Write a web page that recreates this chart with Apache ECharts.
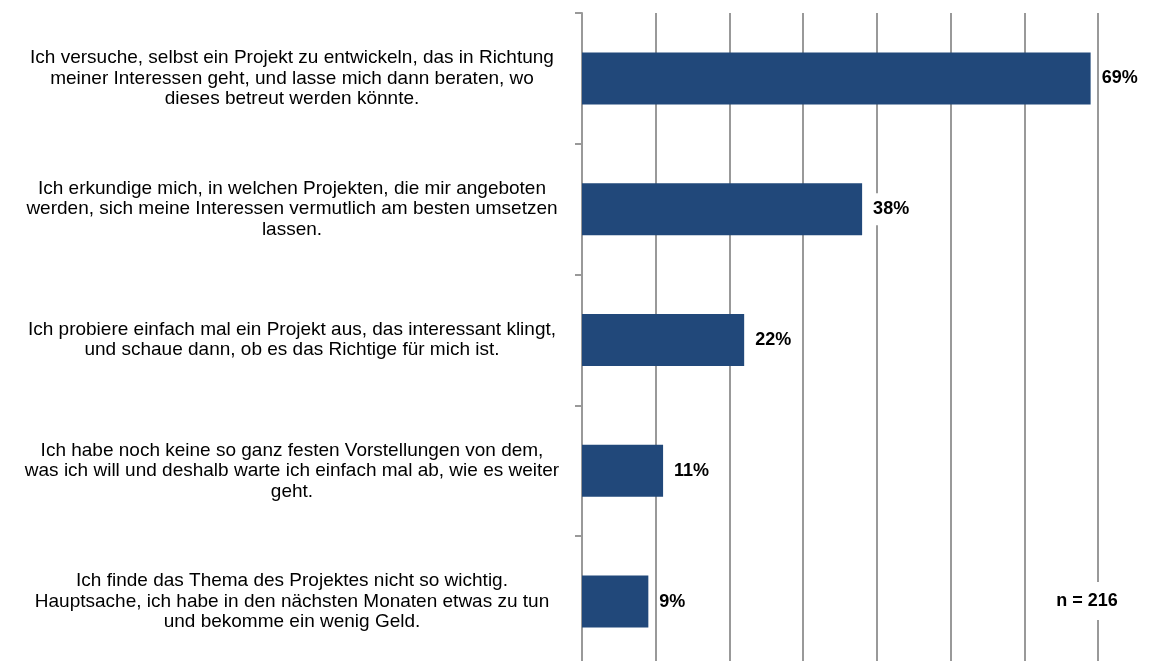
<!DOCTYPE html>
<html>
<head>
<meta charset="utf-8">
<script src="https://cdn.jsdelivr.net/npm/echarts@6/dist/echarts.min.js"></script>
<style>
  html, body { margin: 0; padding: 0; background: #fff; }
  #chart { width: 1163px; height: 661px; }
</style>
</head>
<body>
<div id="chart"></div>
<script>
// Antworten (Kategorien) und Anteile in Prozent
const categories = [
  'Ich versuche, selbst ein Projekt zu entwickeln, das in Richtung\nmeiner Interessen geht, und lasse mich dann beraten, wo\ndieses betreut werden könnte.',
  'Ich erkundige mich, in welchen Projekten, die mir angeboten\nwerden, sich meine Interessen vermutlich am besten umsetzen\nlassen.',
  'Ich probiere einfach mal ein Projekt aus, das interessant klingt,\nund schaue dann, ob es das Richtige für mich ist.',
  'Ich habe noch keine so ganz festen Vorstellungen von dem,\nwas ich will und deshalb warte ich einfach mal ab, wie es weiter\ngeht.',
  'Ich finde das Thema des Projektes nicht so wichtig.\nHauptsache, ich habe in den nächsten Monaten etwas zu tun\nund bekomme ein wenig Geld.'
]
const values = [69, 38, 22, 11, 9]
const sampleNote = 'n = 216'

const chart = echarts.init(document.getElementById('chart'))

chart.setOption({
  animation: false,
  grid: {
    left: 582, width: 516, top: 13, height: 654,
    containLabel: false,
    outerBoundsMode: 'none'
  },
  xAxis: {
    type: 'value',
    min: 0,
    max: 70,
    interval: 10,
    axisLabel: { show: false },
    axisLine: { show: false },
    axisTick: { show: false },
    splitLine: { show: true, lineStyle: { color: '#999', width: 2 } }
  },
  yAxis: {
    type: 'category',
    inverse: true,
    data: categories,
    axisLine: { show: true, lineStyle: { color: '#999', width: 2 } },
    axisTick: { show: true, length: 7, lineStyle: { color: '#999', width: 2 } },
    axisLabel: {
      margin: 290,
      align: 'center',
      color: '#000',
      fontFamily: 'Liberation Sans, Arial, sans-serif',
      fontSize: 19,
      lineHeight: 20.5
    }
  },
  series: [{
    type: 'bar',
    data: values,
    barWidth: 52,
    itemStyle: { color: '#21487a' },
    label: {
      show: true,
      position: 'right',
      distance: 9,
      formatter: '{c}%',
      color: '#000',
      fontFamily: 'Liberation Sans, Arial, sans-serif',
      fontWeight: 'bold',
      fontSize: 18,
      backgroundColor: '#fff',
      padding: [7, 2]
    }
  }],
  graphic: [{
    type: 'text',
    z: 100,
    x: 1087,
    y: 601,
    style: {
      text: sampleNote,
      fill: '#000',
      font: 'bold 18px Liberation Sans, Arial, sans-serif',
      align: 'center',
      verticalAlign: 'middle',
      backgroundColor: '#fff',
      padding: [10, 2]
    }
  }]
})
</script>
</body>
</html>
